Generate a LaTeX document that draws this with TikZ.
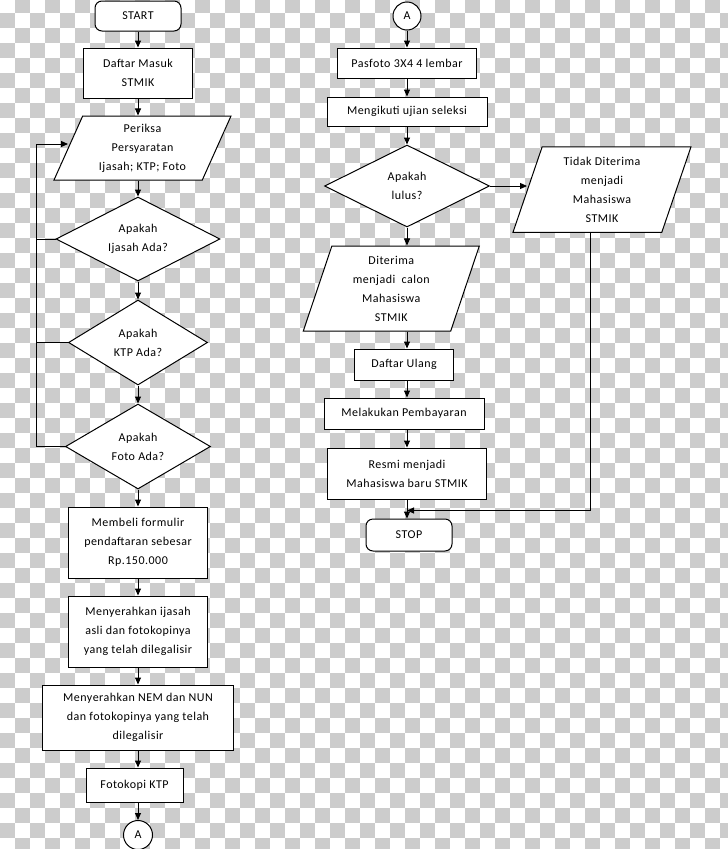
\documentclass[tikz,border=0pt]{standalone}
\usepackage{fontspec}
\setmainfont{Carlito}[LetterSpace=4]
\usetikzlibrary{shapes.geometric,arrows.meta}

\tikzset{
  flowbox/.style={draw,fill=white,line width=1pt,align=center,inner sep=2pt},
  proc/.style={flowbox,rectangle},
  term/.style={flowbox,rectangle,rounded corners=7pt},
  iobox/.style={flowbox,trapezium,trapezium stretches body},
  decide/.style={flowbox,diamond,inner sep=0pt,shape aspect=2},
  conn/.style={flowbox,circle,inner sep=0pt,minimum size=29pt},
  arr/.style={line width=1pt,-{Triangle[length=7pt,width=6pt]}},
}

\begin{document}
\begin{tikzpicture}[x=1pt,y=-1pt,font=\fontsize{12}{19}\selectfont]
  \useasboundingbox (0,0) rectangle (728,849);
  % transparency grid behind the chart
  \begin{scope}
    \clip (0,0) rectangle (728,849);
    \foreach \r in {0,...,57}{
      \foreach \c in {0,...,48}{
        \pgfmathtruncatemacro{\odd}{mod(\r+\c,2)}
        \ifnum\odd=1 \fill[black!20] (15*\c,-2+15*\r) rectangle ++(15,15);\fi}}
  \end{scope}

  % left column
  \node[term,minimum width=86pt,minimum height=30pt] (start) at (138,16) {START};
  \node[proc,minimum width=109pt,minimum height=50pt] (daftar) at (138,73) {Daftar Masuk\\STMIK};
  \node[iobox,trapezium left angle=61.3,trapezium right angle=118.7,
        minimum width=177pt,minimum height=64pt] (periksa) at (142.5,148) {Periksa\\Persyaratan\\Ijasah; KTP; Foto};
  \node[decide,minimum width=164pt,minimum height=84pt] (dijasah) at (138,239) {Apakah\\Ijasah Ada?};
  \node[decide,minimum width=139pt,minimum height=85pt] (dktp) at (138,342.5) {Apakah\\KTP Ada?};
  \node[decide,minimum width=145pt,minimum height=85pt] (dfoto) at (138,446.5) {Apakah\\Foto Ada?};
  \node[proc,minimum width=139pt,minimum height=71pt] (membeli) at (138,542.5) {Membeli formulir\\pendaftaran sebesar\\Rp.150.000};
  \node[proc,minimum width=139pt,minimum height=71pt] (serah1) at (138,631.5) {Menyerahkan ijasah\\asli dan fotokopinya\\yang telah dilegalisir};
  \node[proc,minimum width=191pt,minimum height=65pt] (serah2) at (138,717.5) {Menyerahkan NEM dan NUN\\dan fotokopinya yang telah\\dilegalisir};
  \node[proc,minimum width=97pt,minimum height=34pt] (fotokopi) at (134.5,785) {Fotokopi KTP};
  \node[conn] (ketA) at (138,835) {A};

  % right column
  \node[conn,minimum size=28pt] (ketB) at (407,16) {A};
  \node[proc,minimum width=139pt,minimum height=30pt] (pasfoto) at (407,63) {Pasfoto 3X4 4 lembar};
  \node[proc,minimum width=160pt,minimum height=29pt] (ikut) at (407,111.5) {Mengikuti ujian seleksi};
  \node[decide,minimum width=165pt,minimum height=82pt] (lulus) at (407,186) {Apakah\\lulus?};
  \node[iobox,trapezium left angle=67.6,trapezium right angle=112.4,
        minimum width=176pt,minimum height=85pt] (terima) at (391.3,288.5) {Diterima\\menjadi\ \ calon\\Mahasiswa\\STMIK};
  \node[proc,minimum width=99pt,minimum height=31pt] (ulang) at (404,364.5) {Daftar Ulang};
  \node[proc,minimum width=160pt,minimum height=31pt] (bayar) at (404,413.5) {Melakukan Pembayaran};
  \node[proc,minimum width=159pt,minimum height=51pt] (resmi) at (407,473.5) {Resmi menjadi\\Mahasiswa baru STMIK};
  \node[term,minimum width=86pt,minimum height=32pt] (stop) at (409,535) {STOP};
  \node[iobox,trapezium left angle=67.2,trapezium right angle=112.8,
        minimum width=178pt,minimum height=85.5pt] (tidak) at (602,189.5) {Tidak Diterima\\menjadi\\Mahasiswa\\STMIK};

  % connectors, left
  \coordinate (back) at (36,144);
  \coordinate (backin) at (68,144);
  \draw[arr] (start) -- (daftar);
  \draw[arr] (daftar) -- (daftar.south |- periksa.north);
  \draw[arr] (daftar.south |- periksa.south) -- (dijasah);
  \draw[arr] (dijasah) -- (dktp);
  \draw[arr] (dktp) -- (dfoto);
  \draw[arr] (dfoto) -- (membeli);
  \draw[arr] (membeli) -- (serah1);
  \draw[arr] (serah1) -- (serah2);
  \draw[arr] (serah2) -- (serah2.south |- fotokopi.north);
  \draw[arr] (serah2.south |- fotokopi.south) -- (ketA);
  \draw[line width=1pt] (dijasah.west) -- (dijasah.west -| back);
  \draw[line width=1pt] (dktp.west) -- (dktp.west -| back);
  \draw[arr] (dfoto.west) -| (back) -- (backin);

  % connectors, right
  \coordinate (ret) at (590,510.5);
  \draw[arr] (ketB) -- (pasfoto);
  \draw[arr] (pasfoto) -- (ikut);
  \draw[arr] (ikut) -- (lulus);
  \draw[arr] (lulus) -- (lulus.south |- terima.north);
  \draw[arr] (lulus.south |- terima.south) -- (lulus.south |- ulang.north);
  \draw[arr] (lulus.south |- ulang.south) -- (lulus.south |- bayar.north);
  \draw[arr] (lulus.south |- bayar.south) -- (lulus.south |- resmi.north);
  \draw[arr] (lulus.south |- resmi.south) -- (lulus.south |- stop.north);
  \draw[arr] (lulus.east) -- (lulus.east -| tidak.west);
  \draw[arr] (tidak.south -| ret) -- (ret) -- (ret -| lulus.south);
\end{tikzpicture}
\end{document}
